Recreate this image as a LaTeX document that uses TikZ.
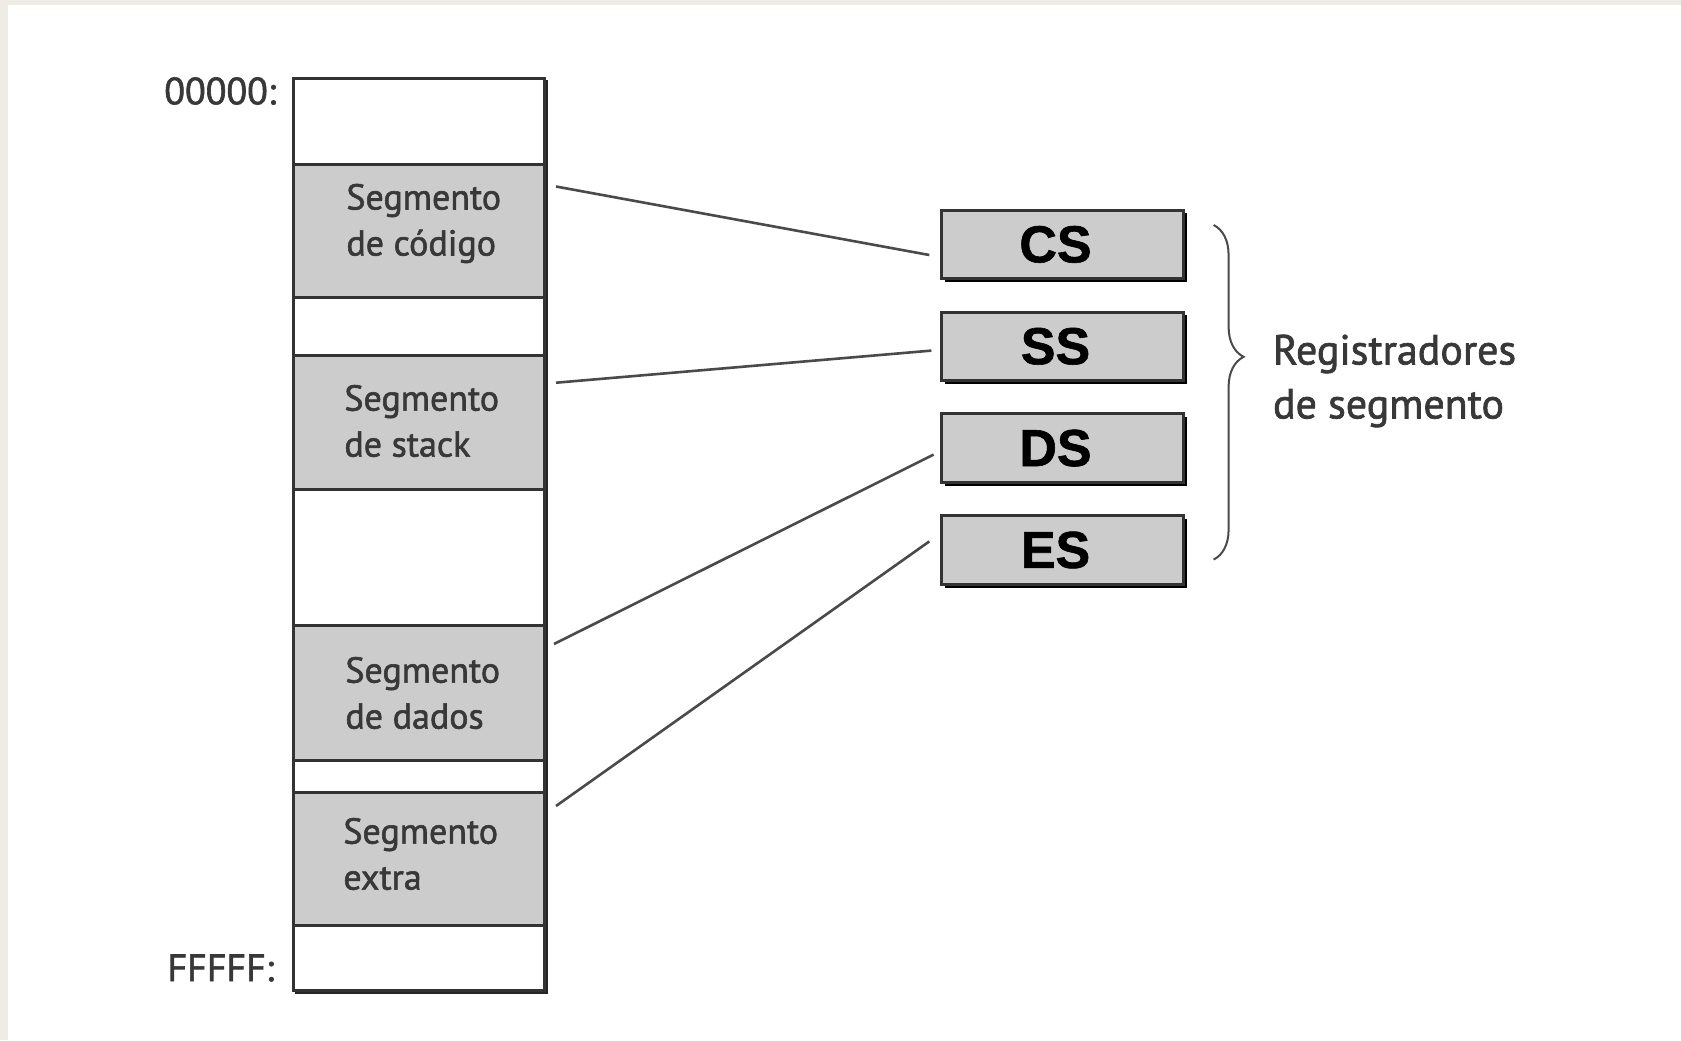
\documentclass[tikz,border=0pt]{standalone}
\usepackage{fontspec}
\setmainfont{PT Sans}[FakeBold=1.6]
\newfontfamily\regfont{Liberation Sans}[BoldFeatures={FakeBold=1.2}]
\usetikzlibrary{calc,shadows,decorations.pathreplacing}
\definecolor{beige}{HTML}{EEECE4}
\definecolor{segfill}{HTML}{CCCCCC}
\definecolor{ink}{HTML}{333333}
\definecolor{txt}{HTML}{383838}
\definecolor{wire}{HTML}{4A4A4A}
\begin{document}
\begin{tikzpicture}[x=0.5pt,y=-0.5pt,
  cell/.style={draw=ink, line width=1.5pt, minimum width=125.45pt, inner sep=0pt, anchor=north west, fill=white},
  segcell/.style={cell, fill=segfill},
  segtxt/.style={anchor=west, inner sep=0pt, align=left, text=txt, font=\fontsize{18}{23}\selectfont},
  addr/.style={anchor=east, inner sep=0pt, text=txt, font=\fontsize{19}{23}\selectfont},
  reg/.style={draw=ink, line width=1.5pt, fill=segfill, minimum width=121pt, minimum height=34.3pt, inner sep=0pt,
    font=\regfont\bfseries\fontsize{26}{30}\selectfont, text=black,
    drop shadow={shadow xshift=1.6pt, shadow yshift=-1.6pt, fill=black, opacity=1}},
  wireline/.style={draw=wire, line width=1.3pt},
  lab/.style={anchor=west, inner sep=0pt, align=left, text=txt, font=\fontsize{21}{27}\selectfont}]
\useasboundingbox (0,0) rectangle (1681,1040);
\fill[beige] (0,0) rectangle (1681,1040);
\fill[white] (8,5) rectangle (1681,1040);

% shadow of memory column
\fill[black!85] (294.6,80) rectangle (548,994);

% memory cells
\node[cell, minimum height=43pt] (top) at (291.6,77) {};
\node[segcell, minimum height=66.5pt] (code) at (291.6,163) {};
\node[cell, minimum height=29pt] (gapa) at (291.6,296) {};
\node[segcell, minimum height=67pt] (stack) at (291.6,354) {};
\node[cell, minimum height=68pt] (gapb) at (291.6,488) {};
\node[segcell, minimum height=67.5pt] (data) at (291.6,624) {};
\node[cell, minimum height=16pt] (gapc) at (291.6,759) {};
\node[segcell, minimum height=66.5pt] (extra) at (291.6,791) {};
\node[cell, minimum height=32.25pt] (bottom) at (291.6,924) {};

% segment texts
\node[segtxt] (tcode) at (346,223.5) {Segmento\\de código};
\node[segtxt] (tstack) at (344,421) {Segmento\\de stack};
\node[segtxt] (tdata) at (345,693) {Segmento\\de dados};
\node[segtxt] (textra) at (343,854) {Segmento\\extra};

% addresses
\node[addr] (a0) at (276.6,91) {00000:};
\node[addr] (a1) at (274.5,968) {FFFFF:};

% registers
\node[reg] (cs) at (1062.5,244.4) {CS\hspace*{7pt}};
\node[reg] (ss) at (1062.5,346.3) {SS\hspace*{7pt}};
\node[reg] (ds) at (1062.5,448.1) {DS\hspace*{7pt}};
\node[reg] (es) at (1062.5,550) {ES\hspace*{7pt}};

% connector end points
\coordinate (p1) at ($(code.north east)+(10.5,23.5)$);
\coordinate (p2) at ($(stack.north east)+(10.5,28.7)$);
\coordinate (p3) at ($(data.north east)+(8.5,20)$);
\coordinate (p4) at ($(extra.north east)+(10.5,15)$);
\coordinate (q1) at ($(cs.west)+(-10.7,10.6)$);
\coordinate (q2) at ($(ss.west)+(-8.6,4.3)$);
\coordinate (q3) at ($(ds.west)+(-6.4,6.5)$);
\coordinate (q4) at ($(es.west)+(-10.7,-8.6)$);
\draw[wireline] (p1) -- (q1);
\draw[wireline] (p2) -- (q2);
\draw[wireline] (p3) -- (q3);
\draw[wireline] (p4) -- (q4);

% brace
\coordinate (b1) at (1213.6,225);
\coordinate (b2) at (1213.6,559.6);
\draw[decorate, decoration={brace, amplitude=15pt, aspect=0.394}, draw=wire, line width=1pt] (b1) -- (b2);

\node[lab] (rlab) at (1272.6,381) {Registradores\\de segmento};
\end{tikzpicture}
\end{document}
